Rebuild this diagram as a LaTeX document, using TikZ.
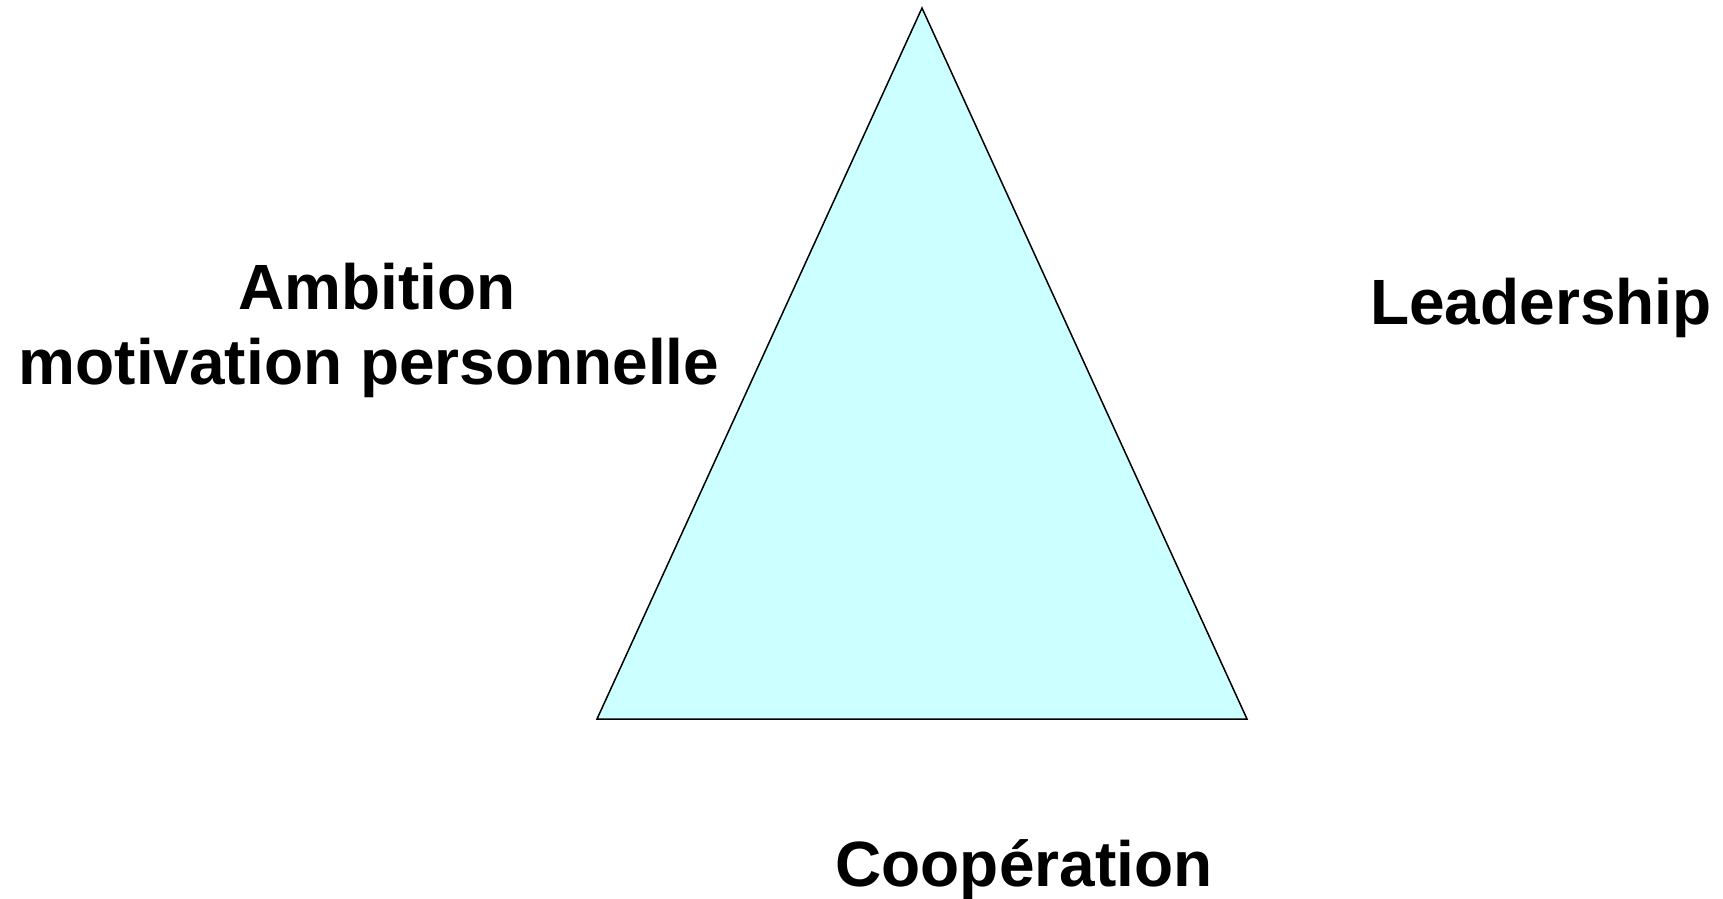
\documentclass[tikz,border=0pt]{standalone}
\usepackage{fontspec}
\setmainfont{Liberation Sans}
\begin{document}
\begin{tikzpicture}[x=1pt,y=-1pt,
  lbl/.style={font=\fontsize{64}{70}\selectfont\bfseries, anchor=base, inner sep=0pt}]
\useasboundingbox (0,0) rectangle (1723,898);
% triangle
\coordinate (top) at (922,8);
\coordinate (bl) at (597,719);
\coordinate (br) at (1247,719);
\draw[fill={rgb,255:red,204;green,255;blue,255}, line width=1.5pt, line join=miter] (top) -- (br) -- (bl) -- cycle;
% labels
\node[lbl] (amb) at (377,309) {Ambition};
\node[lbl] (mot) at (369,384) {motivation personnelle};
\node[lbl] (lead) at (1541,324) {Leadership};
\node[lbl] (coop) at (1024,886) {Coopération};
\end{tikzpicture}
\end{document}
